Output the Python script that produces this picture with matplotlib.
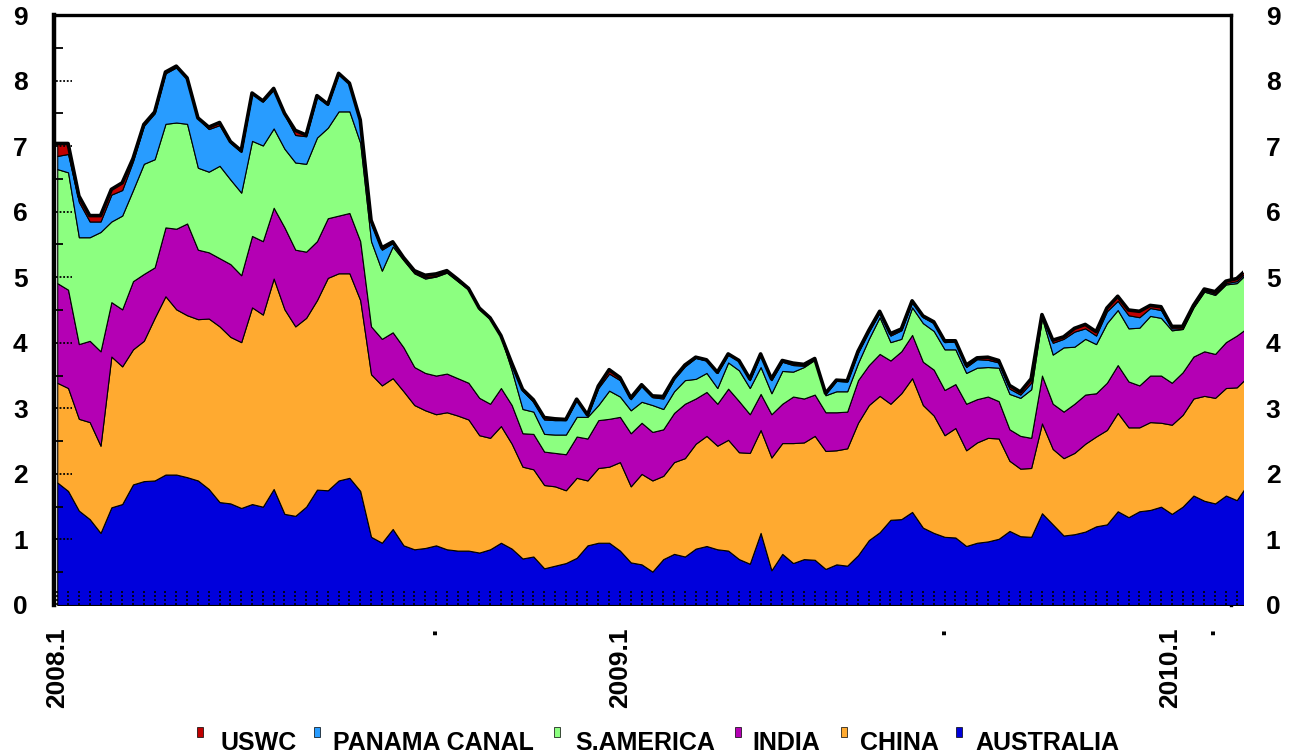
import numpy as np
import matplotlib.pyplot as plt
from matplotlib.patches import Rectangle
from matplotlib import font_manager

# weekly index, first week of 2008 = 0
weeks = np.arange(111)

australia = [1.87, 1.74, 1.44, 1.31, 1.10, 1.49, 1.54, 1.84, 1.89, 1.90,
             1.99, 1.99, 1.95, 1.90, 1.77, 1.57, 1.55, 1.48, 1.54, 1.50,
             1.77, 1.39, 1.36, 1.50, 1.76, 1.75, 1.90, 1.94, 1.74, 1.04,
             0.95, 1.16, 0.91, 0.85, 0.87, 0.91, 0.85, 0.83, 0.83, 0.80,
             0.85, 0.95, 0.86, 0.71, 0.74, 0.56, 0.60, 0.64, 0.72, 0.91,
             0.95, 0.95, 0.83, 0.65, 0.62, 0.51, 0.70, 0.78, 0.74, 0.86,
             0.90, 0.85, 0.83, 0.70, 0.63, 1.10, 0.53, 0.78, 0.64, 0.70,
             0.69, 0.55, 0.62, 0.60, 0.76, 0.99, 1.11, 1.30, 1.31, 1.42,
             1.18, 1.10, 1.04, 1.03, 0.90, 0.95, 0.97, 1.01, 1.13, 1.05,
             1.04, 1.40, 1.23, 1.06, 1.08, 1.12, 1.20, 1.23, 1.43, 1.34,
             1.43, 1.45, 1.50, 1.39, 1.50, 1.67, 1.59, 1.55, 1.67, 1.60, 1.84]
china = [1.52, 1.57, 1.40, 1.48, 1.33, 2.30, 2.10, 2.06, 2.14, 2.48,
         2.72, 2.52, 2.47, 2.46, 2.60, 2.68, 2.54, 2.53, 3.00, 2.93,
         3.21, 3.12, 2.89, 2.88, 2.89, 3.24, 3.16, 3.12, 2.91, 2.48,
         2.40, 2.30, 2.35, 2.20, 2.10, 2.00, 2.09, 2.06, 2.00, 1.79,
         1.70, 1.78, 1.60, 1.40, 1.33, 1.27, 1.21, 1.11, 1.22, 0.99,
         1.14, 1.16, 1.35, 1.16, 1.38, 1.39, 1.27, 1.40, 1.50, 1.60,
         1.68, 1.58, 1.69, 1.63, 1.69, 1.57, 1.72, 1.69, 1.83, 1.78,
         1.89, 1.80, 1.74, 1.79, 2.02, 2.06, 2.08, 1.77, 1.92, 2.04,
         1.87, 1.79, 1.55, 1.67, 1.46, 1.53, 1.58, 1.53, 1.07, 1.03,
         1.05, 1.37, 1.15, 1.18, 1.24, 1.34, 1.37, 1.44, 1.50, 1.37,
         1.28, 1.34, 1.28, 1.36, 1.40, 1.48, 1.60, 1.61, 1.64, 1.72, 1.64]
india = [1.52, 1.50, 1.14, 1.24, 1.44, 0.83, 0.87, 1.04, 1.02, 0.77,
         1.05, 1.23, 1.40, 1.06, 1.01, 1.04, 1.11, 1.02, 1.09, 1.12,
         1.08, 1.25, 1.17, 1.01, 0.90, 0.91, 0.88, 0.92, 0.90, 0.73,
         0.71, 0.70, 0.67, 0.58, 0.57, 0.59, 0.59, 0.57, 0.56, 0.57,
         0.52, 0.58, 0.59, 0.51, 0.54, 0.51, 0.51, 0.55, 0.63, 0.64,
         0.73, 0.73, 0.69, 0.81, 0.78, 0.74, 0.71, 0.75, 0.83, 0.69,
         0.67, 0.64, 0.78, 0.78, 0.59, 0.55, 0.66, 0.60, 0.71, 0.67,
         0.63, 0.59, 0.58, 0.56, 0.65, 0.61, 0.64, 0.66, 0.64, 0.66,
         0.66, 0.70, 0.69, 0.67, 0.71, 0.66, 0.63, 0.57, 0.48, 0.50,
         0.46, 0.73, 0.69, 0.71, 0.75, 0.75, 0.66, 0.72, 0.73, 0.70,
         0.64, 0.71, 0.72, 0.64, 0.65, 0.64, 0.68, 0.67, 0.70, 0.79, 0.75]
s_america = [1.74, 1.79, 1.63, 1.58, 1.82, 1.23, 1.43, 1.39, 1.68, 1.65,
             1.58, 1.62, 1.52, 1.25, 1.23, 1.41, 1.29, 1.26, 1.45, 1.46,
             1.21, 1.20, 1.33, 1.34, 1.58, 1.38, 1.59, 1.55, 1.50, 1.30,
             1.04, 1.31, 1.33, 1.43, 1.44, 1.51, 1.54, 1.48, 1.42, 1.35,
             1.29, 0.78, 0.53, 0.37, 0.34, 0.27, 0.28, 0.30, 0.30, 0.33,
             0.23, 0.43, 0.31, 0.35, 0.32, 0.41, 0.31, 0.33, 0.36, 0.30,
             0.29, 0.24, 0.40, 0.47, 0.40, 0.41, 0.32, 0.50, 0.38, 0.48,
             0.53, 0.26, 0.32, 0.31, 0.26, 0.40, 0.56, 0.28, 0.19, 0.42,
             0.59, 0.59, 0.62, 0.53, 0.47, 0.48, 0.45, 0.51, 0.54, 0.58,
             0.74, 0.88, 0.75, 0.98, 0.87, 0.85, 0.75, 0.91, 0.84, 0.81,
             0.88, 0.91, 0.88, 0.80, 0.66, 0.75, 0.91, 0.90, 0.88, 0.80, 0.84]
panama = [0.20, 0.28, 0.54, 0.24, 0.16, 0.41, 0.39, 0.44, 0.58, 0.70,
          0.77, 0.84, 0.68, 0.75, 0.65, 0.62, 0.56, 0.62, 0.72, 0.67,
          0.59, 0.52, 0.42, 0.42, 0.62, 0.35, 0.57, 0.42, 0.34, 0.27,
          0.32, 0.05, 0.02, 0.01, 0.02, 0.01, 0.02, 0.01, 0.01, 0.01,
          0.01, 0.01, 0.09, 0.28, 0.15, 0.22, 0.22, 0.22, 0.26, 0.02,
          0.26, 0.26, 0.25, 0.17, 0.24, 0.12, 0.16, 0.19, 0.21, 0.32,
          0.19, 0.23, 0.12, 0.14, 0.12, 0.19, 0.20, 0.14, 0.10, 0.02,
          0.01, 0.02, 0.16, 0.15, 0.16, 0.11, 0.07, 0.10, 0.13, 0.08,
          0.09, 0.12, 0.11, 0.12, 0.09, 0.13, 0.11, 0.08, 0.08, 0.05,
          0.10, 0.04, 0.18, 0.13, 0.23, 0.16, 0.13, 0.18, 0.14, 0.20,
          0.16, 0.12, 0.12, 0.03, 0.01, 0.01, 0.02, 0.02, 0.02, 0.03, 0.03]
uswc = [0.19, 0.16, 0.09, 0.09, 0.09, 0.08, 0.11, 0.04, 0.02, 0.02,
        0.02, 0.02, 0.02, 0.01, 0.03, 0.04, 0.02, 0.02, 0.01, 0.01,
        0.02, 0.02, 0.07, 0.02, 0.02, 0.01, 0.01, 0.01, 0.01, 0.05,
        0.03, 0.02, 0.02, 0.03, 0.03, 0.03, 0.01, 0.02, 0.01, 0.01,
        0.01, 0.01, 0.02, 0.02, 0.03, 0.03, 0.02, 0.01, 0.01, 0.01,
        0.03, 0.06, 0.04, 0.02, 0.02, 0.02, 0.03, 0.01, 0.02, 0.01,
        0.01, 0.01, 0.01, 0.01, 0.02, 0.01, 0.02, 0.02, 0.03, 0.02,
        0.01, 0.01, 0.01, 0.01, 0.02, 0.02, 0.02, 0.03, 0.02, 0.02,
        0.02, 0.02, 0.02, 0.01, 0.03, 0.02, 0.04, 0.03, 0.05, 0.04,
        0.06, 0.01, 0.04, 0.03, 0.05, 0.06, 0.06, 0.05, 0.07, 0.08,
        0.09, 0.04, 0.05, 0.03, 0.03, 0.02, 0.02, 0.03, 0.03, 0.04, 0.03]

names = ['AUSTRALIA', 'CHINA', 'INDIA', 'S.AMERICA', 'PANAMA CANAL', 'USWC']
colors = ['#0000DC', '#FFAA30', '#B400B4', '#8CFF80', '#289CFF', '#C00000']

xtick_pos = [0, 34.4, 52, 81.4, 102.8, 106.3]
xtick_labels = ['2008.1', '.', '2009.1', '.', '2010.1', '.']

available = {f.name for f in font_manager.fontManager.ttflist}
tick_font = dict(family='Liberation Sans', weight='bold', size=19)
if 'Liberation Sans Narrow' in available:
    legend_font = dict(family='Liberation Sans Narrow', weight='bold', size=22)
else:
    legend_font = dict(family='Liberation Sans', weight='bold', size=18)

W, H = 1291, 754
fig = plt.figure(figsize=(W / 100, H / 100), dpi=100)
ax = fig.add_axes([54 / W, 149 / H, 1177 / W, 590 / H])
ax.set_xlim(-0.3, 108.47)
ax.set_ylim(0, 9)

# the series run a little past the right frame
clip = Rectangle((-0.3, 0), 109.85, 9.2, transform=ax.transData)
polys = ax.stackplot(weeks, australia, china, india, s_america, panama, uswc,
                     colors=colors, edgecolor='black', linewidth=0.8, zorder=3)
for p in polys:
    p.set_clip_path(clip)
total = np.sum([australia, china, india, s_america, panama, uswc], axis=0)
top_line, = ax.plot(weeks, total, color='black', lw=2.6, zorder=4)
top_line.set_clip_path(clip)

# weekly minor ticks along the bottom
ax.vlines(weeks[:110], 0, 0.23, colors='black', linestyles=(0, (1.2, 1.2)),
          lw=1.2, zorder=5, clip_on=False)

# left axis tick marks: dotted at integers, solid at halves
ytr = ax.get_yaxis_transform()
ax.hlines(np.arange(1, 9), 2 / 1177, 18 / 1177, transform=ytr, colors='black',
          linestyles=(0, (1, 1)), lw=1.3, zorder=5)
ax.hlines(np.arange(0.5, 9, 1), 0, 9 / 1177, transform=ytr, colors='black',
          lw=1.3, zorder=5)

ax.spines['bottom'].set_visible(False)
ax.spines['left'].set_linewidth(3.2)
ax.spines['top'].set_linewidth(2.4)
ax.spines['right'].set_linewidth(2.4)

ax.set_yticks(range(10))
ax.set_yticklabels([str(v) for v in range(10)], fontdict=tick_font)
ax.tick_params(axis='y', length=0, pad=19)
ax.set_xticks(xtick_pos)
ax.set_xticklabels(xtick_labels, rotation=90, fontdict=tick_font)
ax.tick_params(axis='x', length=0, pad=16)

ax2 = ax.twinx()
ax2.set_ylim(0, 9)
ax2.set_yticks(range(10))
ax2.set_yticklabels([str(v) for v in range(10)], fontdict=tick_font)
ax2.tick_params(axis='y', length=0, pad=25)
for s in ax2.spines.values():
    s.set_visible(False)

# legend along the bottom, in stacking order from the top series down
legend_items = [('USWC', colors[5], 197, 220),
                ('PANAMA CANAL', colors[4], 314, 333),
                ('S.AMERICA', colors[3], 554, 575),
                ('INDIA', colors[2], 735, 752),
                ('CHINA', colors[1], 841, 860),
                ('AUSTRALIA', colors[0], 956, 975)]
for label, col, xm, xt in legend_items:
    fig.patches.append(Rectangle((xm / W, (H - 737) / H), 6 / W, 10 / H,
                                 transform=fig.transFigure, facecolor=col,
                                 edgecolor='black', lw=0.5))
    fig.text(xt / W, (H - 750) / H, label, ha='left', va='baseline', **legend_font)

fig.savefig('out.png', dpi=100)
